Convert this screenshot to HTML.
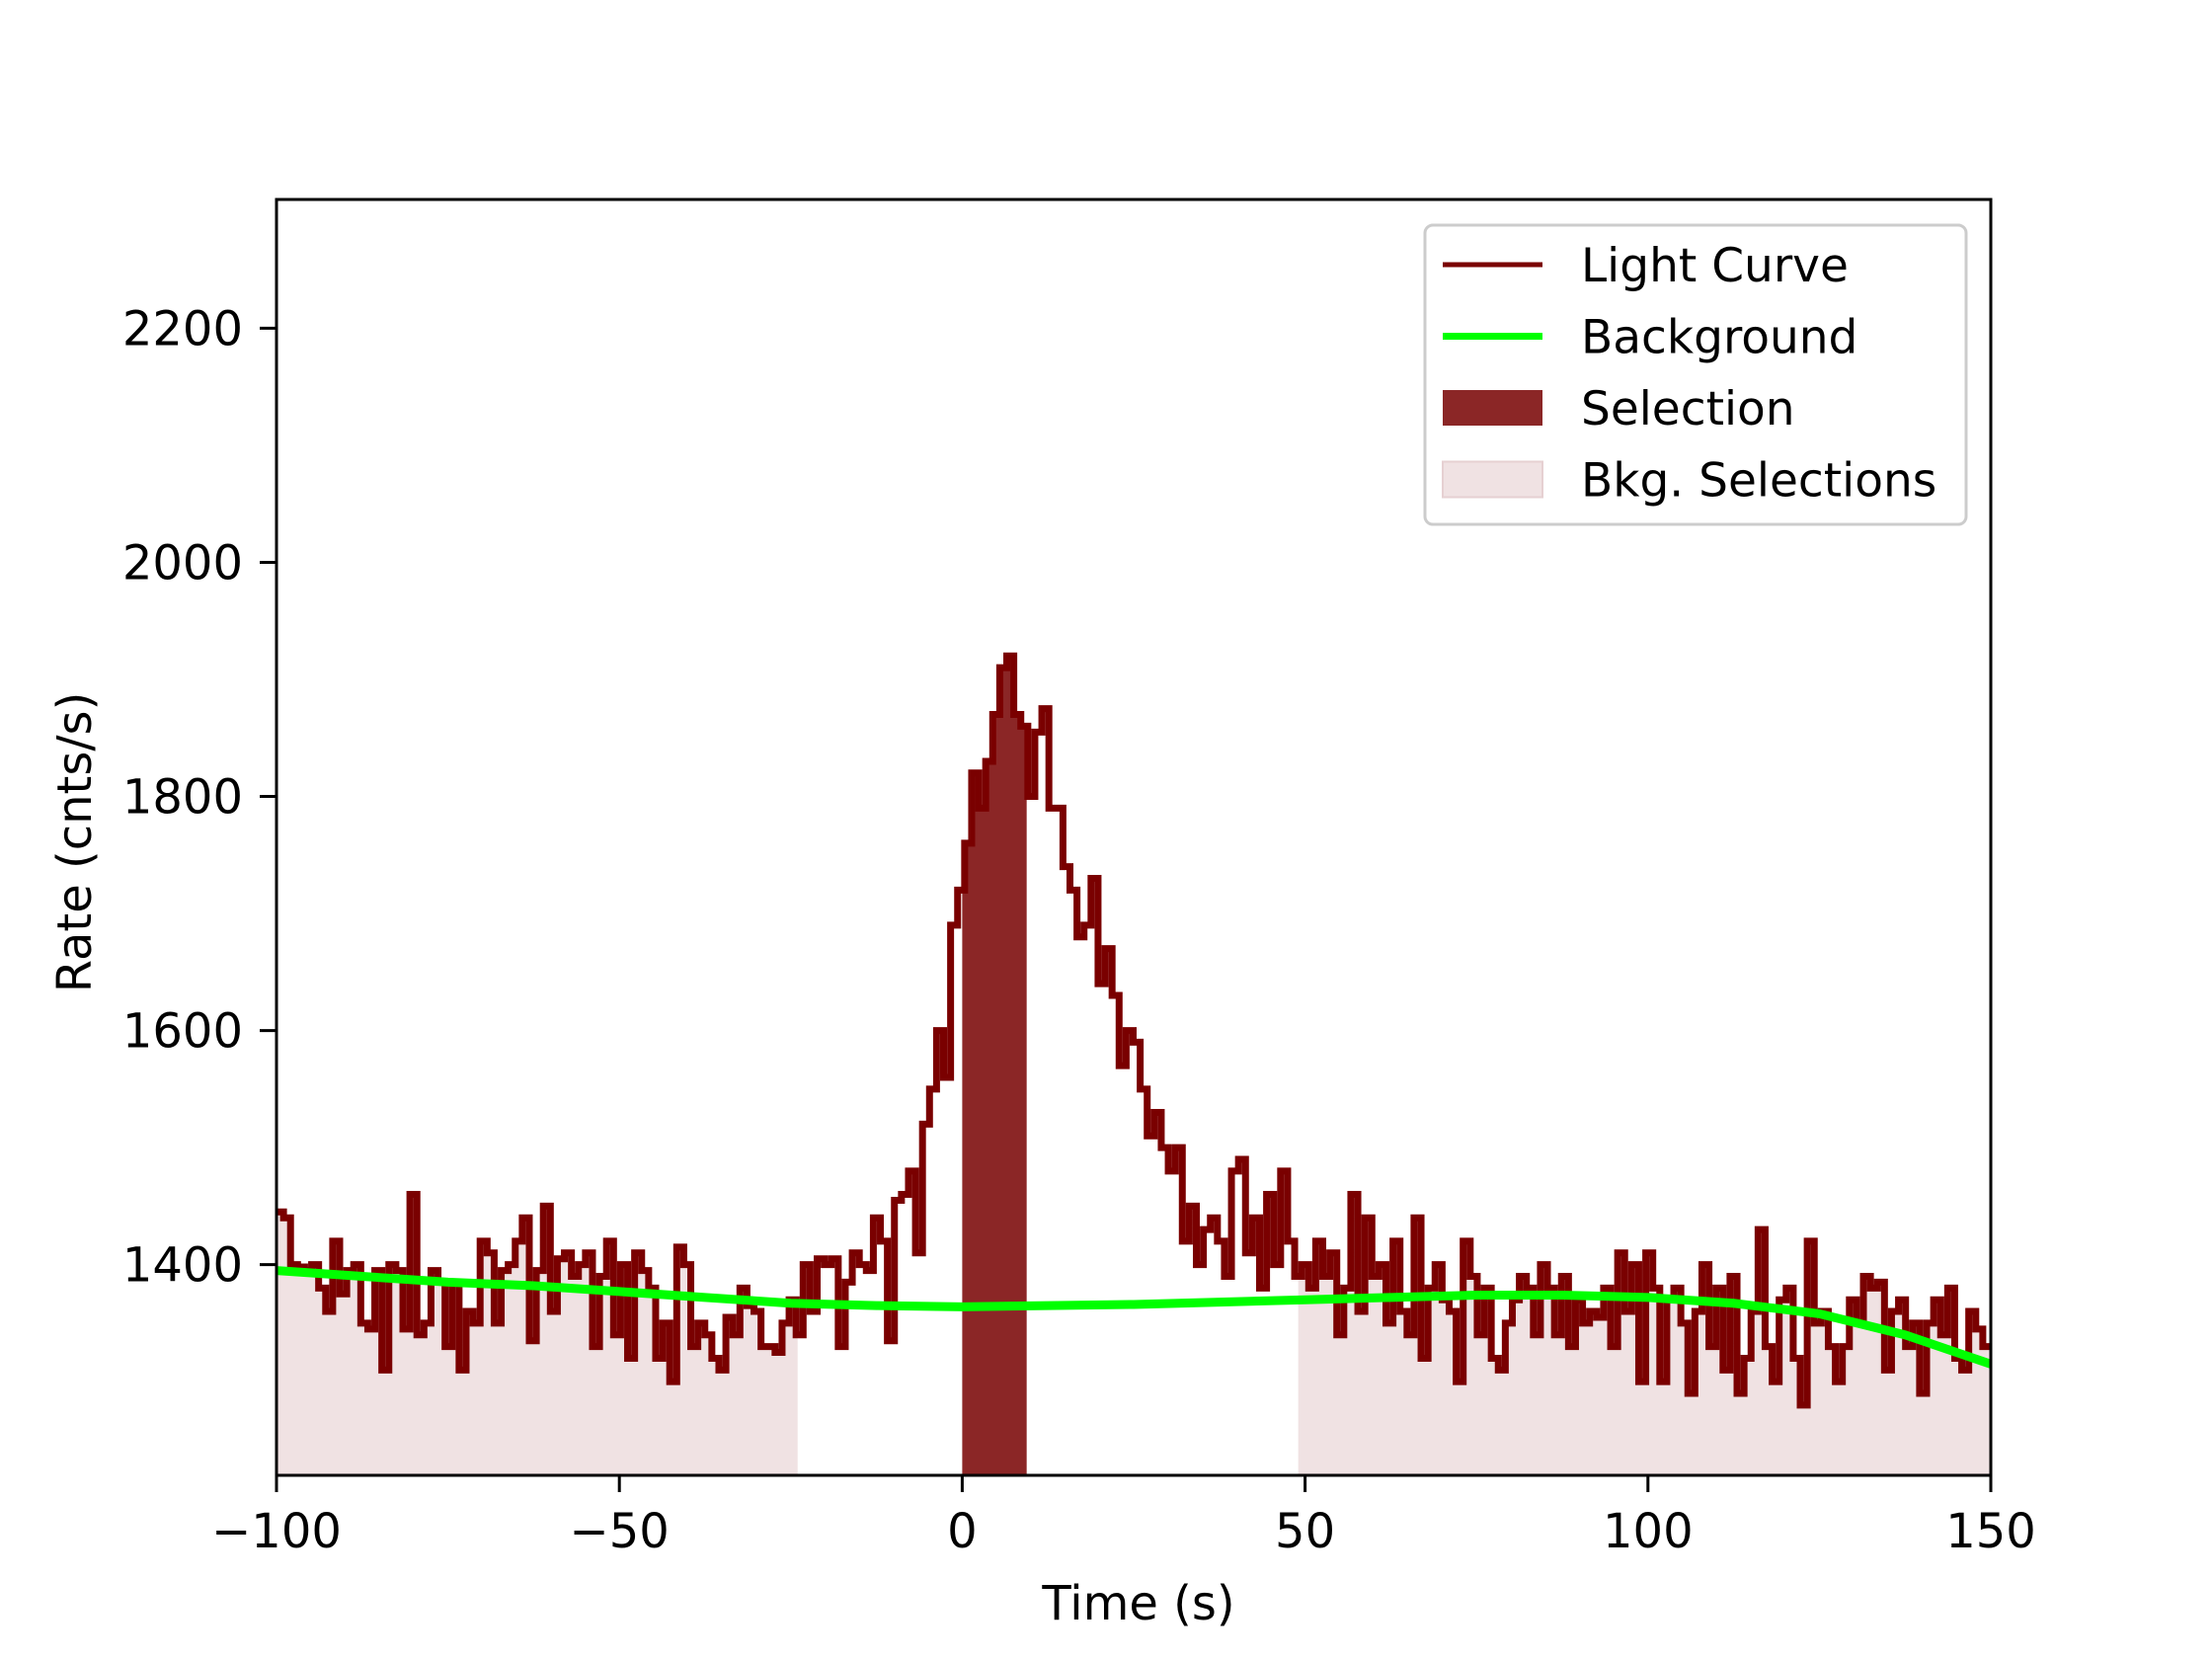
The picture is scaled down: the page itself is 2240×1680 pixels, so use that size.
<!DOCTYPE html>
<html><head><meta charset="utf-8"><style>
html,body{margin:0;padding:0;background:#fff}
svg{display:block;font-family:"DejaVu Sans","Liberation Sans",sans-serif}
</style></head><body>
<svg id="chart" width="2240" height="1680" viewBox="0 0 2240 1680" xmlns="http://www.w3.org/2000/svg">
<defs>
<clipPath id="plotclip"><rect x="280" y="202" width="1736" height="1292"/></clipPath>
<clipPath id="selclip"><rect id="selrect" x="0" y="0" width="0" height="0"/></clipPath>
<clipPath id="bkgclip"><rect id="bkgrect1" x="0" y="0" width="0" height="0"/><rect id="bkgrect2" x="0" y="0" width="0" height="0"/></clipPath>
</defs>
<g id="plot"></g>
</svg>
<script>
const rates = [
1445,1440,1400,1398,1395,1400,1380,1360,1420,1375,
1395,1400,1350,1345,1395,1310,1400,1395,1345,1460,
1340,1350,1395,1385,1330,1385,1310,1360,1350,1420,
1410,1350,1395,1400,1420,1440,1335,1395,1450,1360,
1405,1410,1390,1400,1410,1330,1390,1420,1340,1400,
1320,1410,1395,1380,1320,1350,1300,1415,1400,1330,
1350,1340,1320,1310,1355,1340,1380,1365,1360,1330,
1330,1325,1350,1370,1340,1400,1360,1405,1400,1405,
1330,1385,1410,1400,1395,1440,1420,1335,
1455,1460,1480,1410,1520,1550,1600,1560,1690,1720,
1760,1820,1790,1830,1870,1910,1920,1870,1860,
1800,1855,1875,1790,1790,1740,1720,1680,1690,1730,1640,1670,1630,1570,1600,1590,1550,1510,1530,1500,1480,1500,1420,1450,1400,1430,1440,1420,1390,1480,1490,1410,1440,1380,1460,1400,1480,1420,1390,
1400,1380,1420,1390,1410,1340,1380,1460,1360,1440,
1390,1400,1350,1420,1360,1340,1440,1320,1380,1400,
1370,1360,1300,1420,1390,1340,1380,1320,1310,1350,
1370,1390,1380,1340,1400,1380,1340,1390,1330,1370,
1350,1360,1355,1380,1330,1410,1360,1400,1300,1410,
1380,1300,1370,1380,1350,1290,1360,1400,1330,1380,
1310,1390,1290,1320,1360,1430,1330,1300,1370,1380,
1320,1280,1420,1350,1360,1330,1300,1330,1370,1350,
1390,1380,1385,1310,1360,1370,1330,1350,1290,1350,
1370,1340,1380,1320,1310,1360,1345,1330];
const binStart = -100;
const binWidth = 1.024;
const bkgTimes = [-100,-87.5,-75,-62.5,-50,-37.5,-25,-12.5,0,12.5,25,37.5,50,62.5,75,87.5,100,112.5,125,137.5,150];
const bkgRates = [1395,1390,1385,1382,1377,1372,1367,1365,1364,1365,1366,1368,1370,1372,1374,1374,1372,1367,1358,1340,1315];
const selection = [0, 9.4];
const bkgSelections = [[-100,-24],[49,150]];
const xTicks = [-100,-50,0,50,100,150];
const yTicks = [1400,1600,1800,2000,2200];
const xDomain = [-100,150], yDomain = [1220,2310];

const L=280,R=2016,T=202,B=1494;
const sx = t => L + (t - xDomain[0])/(xDomain[1]-xDomain[0])*(R-L);
const sy = v => B - (v - yDomain[0])/(yDomain[1]-yDomain[0])*(B-T);
const NS="http://www.w3.org/2000/svg";
const svg=document.getElementById('chart'), plot=document.getElementById('plot');
function mk(tag, attrs, parent){const e=document.createElementNS(NS,tag);for(const k in attrs)e.setAttribute(k,attrs[k]);(parent||svg).appendChild(e);return e;}

let d='', fill='M'+sx(binStart)+','+B;
rates.forEach((v,i)=>{const x0=sx(binStart+i*binWidth),x1=sx(binStart+(i+1)*binWidth),y=sy(v);
 d += (i===0?'M':'L')+x0+','+y+'L'+x1+','+y; fill+='L'+x0+','+y+'L'+x1+','+y;});
fill+='L'+sx(binStart+rates.length*binWidth)+','+B+'Z';

const b1=document.getElementById('bkgrect1'),b2=document.getElementById('bkgrect2');
[[b1,bkgSelections[0]],[b2,bkgSelections[1]]].forEach(([r,s])=>{r.setAttribute('x',sx(s[0]));r.setAttribute('width',sx(s[1])-sx(s[0]));r.setAttribute('y',T);r.setAttribute('height',B-T);});
const sr=document.getElementById('selrect');
sr.setAttribute('x',sx(selection[0]));sr.setAttribute('width',sx(selection[1])-sx(selection[0]));sr.setAttribute('y',T);sr.setAttribute('height',B-T);

const g=mk('g',{'clip-path':'url(#plotclip)'},plot);
const bf=mk('path',{d:fill,fill:'#f0e2e3','clip-path':'url(#bkgclip)'},g);


const sf=mk('path',{d:fill,fill:'#8b2626','clip-path':'url(#selclip)'},g);


const lc=mk('path',{d:d,fill:'none',stroke:'#7a0000','stroke-width':7,'stroke-linejoin':'miter'},g);


const bg=mk('polyline',{points:bkgTimes.map((t,i)=>sx(t)+','+sy(bkgRates[i])).join(' '),fill:'none',stroke:'#00ff00','stroke-width':9},g);



const fr=mk('rect',{x:L,y:T,width:R-L,height:B-T,fill:'none',stroke:'#000','stroke-width':3});


xTicks.forEach(t=>{mk('line',{x1:sx(t),x2:sx(t),y1:B,y2:B+17,stroke:'#000','stroke-width':3});
 const tx=mk('text',{x:sx(t),y:1567,'text-anchor':'middle','font-size':48,fill:'#000'});tx.textContent=String(t).replace('-','\u2212');
 
 });
yTicks.forEach(v=>{mk('line',{x1:L-17,x2:L,y1:sy(v),y2:sy(v),stroke:'#000','stroke-width':3});
 const tx=mk('text',{x:246,y:sy(v)+17,'text-anchor':'end','font-size':48,fill:'#000'});tx.textContent=v;
 
 });
const xl=mk('text',{x:1153,y:1640,'text-anchor':'middle','font-size':48});xl.textContent='Time (s)';


const yl=mk('text',{x:0,y:0,'text-anchor':'middle','font-size':48,transform:'translate(92,853) rotate(-90)'});yl.textContent='Rate (cnts/s)';



const lg=mk('g',{});


mk('rect',{x:1443,y:228,width:548,height:303,rx:8,fill:'#fff','fill-opacity':0.8,stroke:'#cccccc','stroke-width':3},lg);
const items=[['Light Curve','line','#7a0000',5],['Background','line','#00ff00',7],['Selection','box','#8b2626'],['Bkg. Selections','box','#f0e2e3']];
items.forEach((it,i)=>{const y=268+i*72.5;
 if(it[1]==='line') mk('line',{x1:1461,x2:1562,y1:y,y2:y,stroke:it[2],'stroke-width':it[3]},lg);
 else mk('rect',{x:1461,y:y-18,width:101,height:36,fill:it[2],stroke:i===3?'#e6d0d2':'none','stroke-width':2},lg);
 const tx=mk('text',{x:1601,y:y+17,'font-size':47},lg);tx.textContent=it[0];
 
 });
</script>
</body></html>
